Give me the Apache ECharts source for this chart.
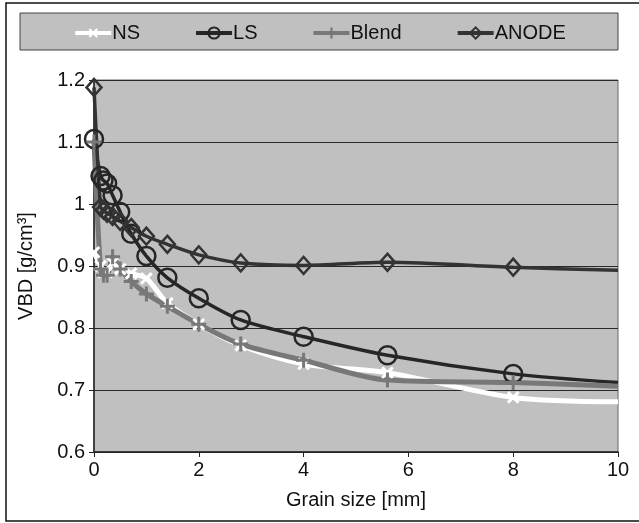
<!DOCTYPE html>
<html>
<head>
<meta charset="utf-8">
<script src="https://cdn.jsdelivr.net/npm/echarts@6/dist/echarts.min.js"></script>
<style>
  html, body { margin: 0; padding: 0; background: #fff; }
  #chart { width: 639px; height: 523px; }
</style>
</head>
<body>
<div id="chart"></div>
<script>
// sieve sizes [mm]
var grainSizes = [0, 0.125, 0.18, 0.25, 0.355, 0.5, 0.71, 1, 1.4, 2, 2.8, 4, 5.6, 8, 10];
var nsValues    = [0.922, 0.900, 0.890, 0.890, 0.905, 0.895, 0.888, 0.880, 0.840, 0.806, 0.772, 0.742, 0.728, 0.688, 0.681];
var lsValues    = [1.105, 1.045, 1.038, 1.033, 1.014, 0.987, 0.952, 0.916, 0.881, 0.848, 0.813, 0.786, 0.756, 0.726, 0.712];
var blendValues = [1.100, 0.895, 0.885, 0.885, 0.915, 0.895, 0.875, 0.855, 0.835, 0.806, 0.774, 0.748, 0.716, 0.712, 0.706];
var anodeValues = [1.188, 0.995, 0.990, 0.985, 0.980, 0.972, 0.962, 0.948, 0.935, 0.918, 0.905, 0.901, 0.906, 0.898, 0.893];

var plusPath = 'path://M4,0H6V4H10V6H6V10H4V6H0V4H4Z';
var fontName = '"Liberation Sans", Arial, sans-serif';

function pairs(vals) {
  var out = [];
  for (var i = 0; i < grainSizes.length; i++) {
    if (grainSizes[i] >= 10) {
      out.push({ value: [grainSizes[i], vals[i]], symbol: 'none' }); // line runs to the edge, no marker
    } else {
      out.push([grainSizes[i], vals[i]]);
    }
  }
  return out;
}

var myChart = echarts.init(document.getElementById('chart'));
myChart.setOption({
  backgroundColor: '#ffffff',
  animation: false,
  textStyle: { fontFamily: fontName },
  graphic: [
    { type: 'rect', z: -10, shape: { x: 6, y: 3, width: 640, height: 518 },
      style: { fill: 'none', stroke: '#111', lineWidth: 1.5 } },
    { type: 'rect', z: -10, shape: { x: 20, y: 13, width: 598, height: 37 },
      style: { fill: '#c0c0c0', stroke: '#444', lineWidth: 1 } }
  ],
  legend: {
    top: 18,
    left: 'center',
    itemGap: 54,
    itemWidth: 36,
    itemHeight: 14,
    lineStyle: { width: 4 },
    textStyle: { fontSize: 20, color: '#111', fontFamily: fontName, padding: [0, 0, 0, -4] },
    data: ['NS', 'LS', 'Blend', 'ANODE']
  },
  grid: { left: 94, right: 21, top: 80, bottom: 71, show: true,
          backgroundColor: '#c0c0c0', borderColor: '#666', borderWidth: 1 },
  xAxis: {
    type: 'value', min: 0, max: 10, interval: 2,
    name: 'Grain size [mm]', nameLocation: 'middle', nameGap: 38,
    nameTextStyle: { fontSize: 20, color: '#111', fontFamily: fontName },
    axisLine: { lineStyle: { color: '#222', width: 1.5 } },
    axisTick: { show: true, length: 5, lineStyle: { color: '#222' } },
    axisLabel: { fontSize: 20, color: '#111', margin: 8 },
    splitLine: { show: false }
  },
  yAxis: {
    type: 'value', min: 0.6, max: 1.2, interval: 0.1,
    name: 'VBD [g/cm³]', nameLocation: 'middle', nameGap: 58, nameRotate: 90,
    nameTextStyle: { fontSize: 20, color: '#111', fontFamily: fontName },
    axisLine: { show: true, lineStyle: { color: '#222', width: 1.5 } },
    axisTick: { show: true, length: 5, lineStyle: { color: '#222' } },
    axisLabel: { fontSize: 20, color: '#111', margin: 9,
      formatter: function (v) { return String(Math.round(v * 10) / 10); } },
    splitLine: { show: true, lineStyle: { color: '#2a2a2a', width: 1.2 } }
  },
  series: [
    {
      name: 'NS', type: 'line', data: pairs(nsValues),
      smooth: 0.3,
      symbol: plusPath, symbolRotate: 45, symbolSize: 15,
      lineStyle: { color: '#ffffff', width: 5 },
      itemStyle: { color: '#ffffff' }
    },
    {
      name: 'LS', type: 'line', data: pairs(lsValues),
      smooth: 0.3,
      symbol: 'circle', symbolSize: 18,
      lineStyle: { color: '#262626', width: 3.5 },
      itemStyle: { color: 'rgba(0,0,0,0)', borderColor: '#262626', borderWidth: 2.5 }
    },
    {
      name: 'Blend', type: 'line', data: pairs(blendValues),
      smooth: 0.3,
      symbol: plusPath, symbolSize: 15,
      lineStyle: { color: '#787878', width: 5 },
      itemStyle: { color: '#787878' }
    },
    {
      name: 'ANODE', type: 'line', data: pairs(anodeValues),
      smooth: 0.3,
      symbol: 'diamond', symbolSize: [15, 17],
      lineStyle: { color: '#333333', width: 3.5 },
      itemStyle: { color: 'rgba(0,0,0,0)', borderColor: '#333333', borderWidth: 2.5 }
    }
  ]
});
</script>
</body>
</html>
